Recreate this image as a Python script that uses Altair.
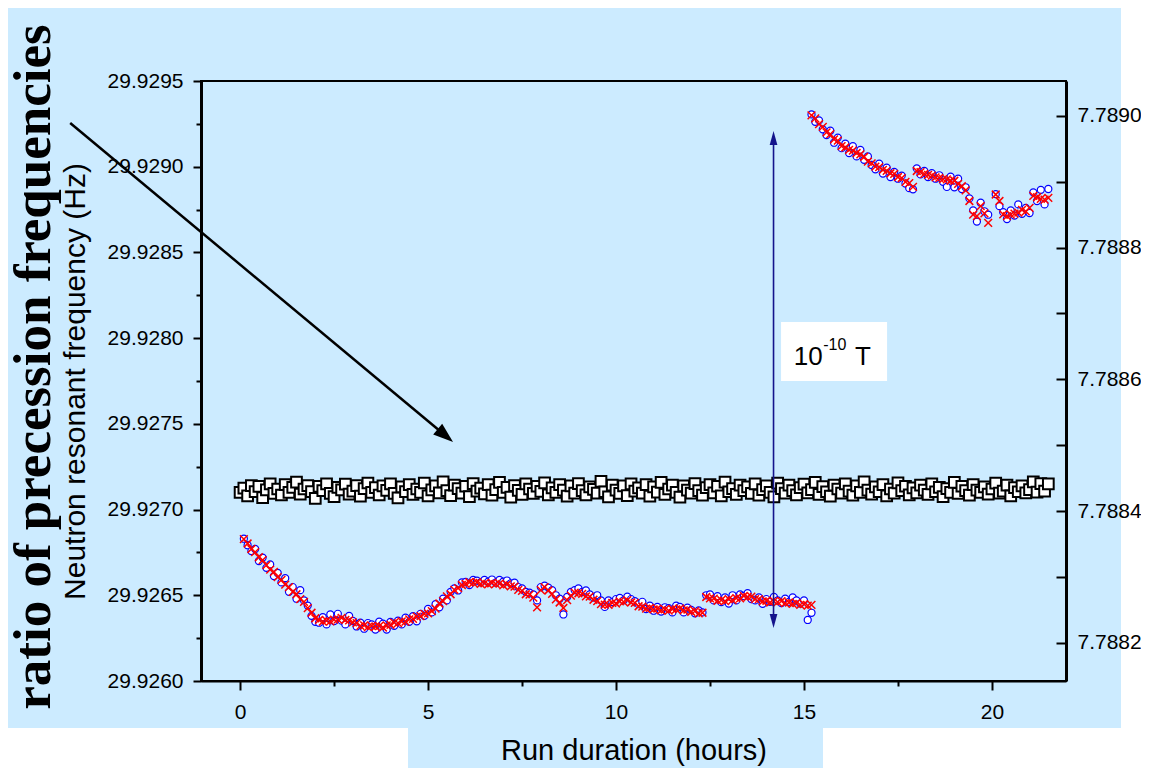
import altair as alt
import pandas as pd

# ---------------- data ----------------
CYCLE_H = 0.1  # one measurement cycle, hours

# ratio series (open squares): offsets above 29.9270 Hz, in micro-Hz
SQ_START = 0.0
SQ_UHZ = [
    100, 125, 80, 140, 105, 135, 70, 115, 150, 95,
    120, 85, 145, 100, 130, 160, 90, 120, 140, 105,
    65, 135, 110, 150, 95, 75, 130, 115, 148, 90,
    108, 140, 78, 122, 155, 100, 128, 85, 138, 112,
    150, 95, 68, 132, 105, 145, 88, 120, 100, 155,
    80, 115, 138, 98, 162, 110, 82, 142, 122, 96,
    136, 76, 152, 108, 125, 92, 146, 84, 116, 158,
    100, 130, 72, 140, 112, 88, 150, 120, 95, 136,
    106, 156, 86, 126, 100, 146, 114, 78, 138, 96,
    152, 110, 86, 132, 118, 96, 165, 104, 74, 142,
    114, 94, 138, 82, 150, 108, 126, 96, 146, 78,
    132, 102, 158, 88, 120, 142, 100, 72, 138, 114,
    96, 152, 110, 84, 128, 146, 98, 136, 80, 160,
    104, 122, 88, 142, 110, 132, 94, 150, 84, 116,
    138, 100, 74, 154, 122, 96, 142, 110, 86, 128,
    148, 98, 116, 158, 88, 134, 104, 78, 142, 120,
    96, 150, 108, 84, 138, 100, 162, 114, 90, 132,
    104, 146, 80, 120, 96, 156, 110, 136, 86, 126,
    98, 142, 114, 88, 150, 104, 130, 76, 122, 100,
    158, 94, 136, 110, 84, 146, 114, 100, 132, 90,
    120, 154, 96, 108, 142, 80, 128, 104, 138, 98,
    116, 162, 102, 152, 108, 150,
]

# neutron frequency before the field step: offsets above 29.9260 Hz, micro-Hz
LOW_START = 0.1
LOW_CIRC_UHZ = [
    830, 792, 758, 770, 700, 720, 660, 680, 612, 630,
    575, 600, 520, 548, 480, 530, 470, 440, 380, 345,
    340, 372, 330, 388, 350, 392, 352, 330, 380, 350,
    318, 340, 305, 338, 330, 300, 346, 335, 300, 345,
    322, 352, 330, 370, 345, 378, 348, 392, 380, 420,
    400, 448, 430, 480, 470, 520, 540, 528, 575, 578,
    560, 590, 585, 575, 590, 580, 592, 574, 590, 580,
    586, 570, 574, 548, 540, 520, 515, 505, 470, 548,
    556, 545, 530, 500, 480, 388, 490, 520, 530, 540,
    520, 528, 505, 486, 500, 470, 432, 470, 460, 478,
    485, 470, 492, 478, 466, 448, 462, 420, 440, 410,
    432, 405, 430, 425, 400, 440, 432, 400, 428, 415,
    395, 412, 400, 500, 505, 470, 495, 460, 488, 452,
    500, 470, 505, 496, 512, 478, 470, 488, 450, 478,
    462, 490, 470, 455, 480, 462, 488, 470, 452, 470,
    356, 398,
]
LOW_CROSS_UHZ = [
    828, 802, 770, 752, 722, 705, 676, 650, 636, 606,
    590, 562, 548, 520, 506, 478, 462, 425, 398, 366,
    356, 346, 352, 348, 358, 360, 368, 356, 354, 342,
    338, 322, 324, 314, 322, 318, 320, 312, 324, 328,
    340, 338, 348, 346, 360, 362, 376, 378, 392, 394,
    408, 422, 452, 466, 494, 506, 532, 542, 560, 566,
    576, 572, 576, 566, 570, 564, 572, 566, 568, 558,
    564, 552, 550, 532, 526, 506, 504, 486, 430, 530,
    548, 528, 508, 476, 458, 426, 472, 498, 516, 512,
    508, 494, 492, 474, 466, 448, 446, 444, 456, 452,
    464, 462, 472, 458, 456, 436, 434, 422, 426, 418,
    422, 412, 418, 410, 420, 418, 424, 412, 416, 404,
    408, 394, 398, 490, 482, 480, 468, 472, 466, 478,
    472, 484, 482, 496, 490, 492, 478, 478, 464, 468,
    458, 466, 460, 466, 454, 458, 450, 454, 444, 448,
    440, 444,
]

# after the field step: offsets above 29.9260 Hz, micro-Hz
HIGH_START = 15.2
HIGH_CIRC_UHZ = [
    3305, 3262, 3270, 3218, 3185, 3210, 3140, 3170, 3108, 3135,
    3080, 3120, 3060, 3098, 3040, 3060, 3010, 2985, 3018, 2960,
    2995, 2940, 2970, 2930, 2948, 2902, 2875, 2868, 2990, 2955,
    2975, 2940, 2962, 2930, 2950, 2912, 2882, 2942, 2880, 2930,
    2870, 2880, 2815, 2745, 2680, 2790, 2740, 2720, None, 2840,
    2770, 2735, 2695, 2745, 2715, 2780, 2725, 2760, 2730, 2850,
    2800, 2865, 2780, 2870,
]
HIGH_CROSS_UHZ = [
    3300, 3282, 3248, 3232, 3200, 3190, 3160, 3152, 3120, 3112,
    3098, 3094, 3080, 3072, 3058, 3030, 3020, 3000, 2998, 2982,
    2976, 2962, 2958, 2940, 2934, 2912, 2904, 2882, 2975, 2968,
    2958, 2952, 2948, 2938, 2935, 2928, 2926, 2918, 2918, 2900,
    2886, 2862, 2800, 2720, 2712, 2770, 2728, 2672, None, 2838,
    2800, 2722, 2712, 2720, 2726, 2732, 2748, 2740, 2760, 2830,
    2822, 2812, 2808, 2818,
]

# axes
X_DOMAIN = [-1.04, 21.97]
X_TICKS = [0, 5, 10, 15, 20]
X_MINOR = [2.5, 7.5, 12.5, 17.5]
L_DOMAIN = [29.926, 29.9295]
L_TICKS = [29.926, 29.9265, 29.927, 29.9275, 29.928, 29.9285, 29.929, 29.9295]
L_MINOR = [29.92625, 29.92675, 29.92725, 29.92775, 29.92825, 29.92875, 29.92925]
R_DOMAIN = [7.788142, 7.789053]
R_TICKS = [7.7882, 7.7884, 7.7886, 7.7888, 7.7890]
R_ALL = [7.7882, 7.7883, 7.7884, 7.7885, 7.7886, 7.7887, 7.7888, 7.7889, 7.7890]

# annotations (data coordinates)
BLACK_ARROW = dict(x=-4.52, y=29.929255, x2=5.30, y2=29.927461, tx=5.665, ty=29.927394, angle=129.8)
BLUE_ARROW = dict(x=14.19, top=29.929208, bottom=29.926309, top_base=29.929138, bottom_base=29.926379)
FIELD_BOX = dict(x=14.39, x2=17.21, y=29.928094, y2=29.92775)
FIELD_TEXT = [("10", 14.73, 29.927843, 26), ("-10", 15.51, 29.927931, 16), ("T", 16.36, 29.927843, 26)]
SIDE_TITLE = "ratio of precession frequencies"

BG = "#CCEBFF"
FONT = "Liberation Sans"
W, H = 865, 600


def rows(start, vals, base, series):
    out = []
    for i, u in enumerate(vals):
        if u is None:
            continue
        out.append({"t": round(start + i * CYCLE_H, 2), "v": base + u * 1e-6, "s": series})
    return out


data = (rows(SQ_START, SQ_UHZ, 29.927, "sq")
        + rows(LOW_START, LOW_CIRC_UHZ, 29.926, "circ")
        + rows(HIGH_START, HIGH_CIRC_UHZ, 29.926, "circ")
        + rows(LOW_START, LOW_CROSS_UHZ, 29.926, "cross")
        + rows(HIGH_START, HIGH_CROSS_UHZ, 29.926, "cross"))
df = pd.DataFrame(data)

x_axis = alt.Axis(values=X_TICKS, title="Run duration (hours)", titleFontSize=29, titlePadding=14,
                  titleFont=FONT, titleFontWeight="normal", labelFont=FONT, labelFontSize=21,
                  labelPadding=11, tickSize=9, tickWidth=2, domainWidth=2, grid=False,
                  labelColor="black", titleColor="black", tickColor="black", domainColor="black")
y_axis = alt.Axis(values=L_TICKS, format=".4f", title="Neutron resonant frequency (Hz)",
                  titleFontSize=30, titlePadding=17, titleFont=FONT, titleFontWeight="normal",
                  labelFont=FONT, labelFontSize=21, labelPadding=10, tickSize=8, tickWidth=2,
                  domainWidth=3, grid=False, labelColor="black", titleColor="black",
                  tickColor="black", domainColor="black")


def X(field):
    return alt.X(field, type="quantitative", scale=alt.Scale(domain=X_DOMAIN, nice=False, zero=False), axis=x_axis)


def Y(field):
    return alt.Y(field, type="quantitative", scale=alt.Scale(domain=L_DOMAIN, nice=False, zero=False), axis=y_axis)


base = alt.Chart(df)
squares = base.transform_filter(alt.datum.s == "sq").mark_point(
    shape="square", filled=True, fill="white", stroke="black", strokeWidth=2, size=115, opacity=1
).encode(x=X("t"), y=Y("v"))
circles = base.transform_filter(alt.datum.s == "circ").mark_point(
    shape="circle", filled=True, fill="white", stroke="#0000FF", strokeWidth=1.2, size=50, opacity=1
).encode(x=X("t"), y=Y("v"))
crosses = base.transform_filter(alt.datum.s == "cross").mark_point(
    shape="M-1,-1L1,1M-1,1L1,-1", filled=False, color="#FF0000", strokeWidth=1.5, size=60, opacity=1
).encode(x=X("t"), y=Y("v"))

# annotation box with 10^-10 T
box_df = pd.DataFrame([FIELD_BOX])
box = alt.Chart(box_df).mark_rect(color="white").encode(
    x=X("x"), x2="x2", y=Y("y"), y2="y2")
texts = []
for txt, tx, ty, fs in FIELD_TEXT:
    texts.append(alt.Chart(pd.DataFrame([{"x": tx, "y": ty, "label": txt}])).mark_text(
        align="left", baseline="alphabetic", font=FONT, fontSize=fs, color="black"
    ).encode(x=X("x"), y=Y("y"), text="label:N"))

# blue double arrow
ba = BLUE_ARROW
blue_line = alt.Chart(pd.DataFrame([{"x": ba["x"], "y": ba["top_base"], "y2": ba["bottom_base"]}])).mark_rule(
    color="#14148C", strokeWidth=1.6).encode(x=X("x"), y=Y("y"), y2="y2")
blue_heads = alt.Chart(pd.DataFrame([
    {"x": ba["x"], "y": ba["top"], "a": 0},
    {"x": ba["x"], "y": ba["bottom"], "a": 180},
])).mark_point(shape="M0,0L-0.55,2L0.55,2Z", filled=True, color="#14148C", size=196, opacity=1).encode(
    x=X("x"), y=Y("y"), angle=alt.Angle("a:Q", scale=None))

# black arrow
k = BLACK_ARROW
black_line = alt.Chart(pd.DataFrame([{"x": k["x"], "y": k["y"], "x2": k["x2"], "y2": k["y2"]}])).mark_rule(
    color="black", strokeWidth=2.5).encode(x=X("x"), y=Y("y"), x2="x2", y2="y2")
black_head = alt.Chart(pd.DataFrame([{"x": k["tx"], "y": k["ty"], "a": k["angle"]}])).mark_point(
    shape="M0,0L-0.7,2L0.7,2Z", filled=True, color="black", size=400, opacity=1).encode(
    x=X("x"), y=Y("y"), angle=alt.Angle("a:Q", scale=None))

# big side title
side_title = alt.Chart(pd.DataFrame([{"label": SIDE_TITLE}])).mark_text(
    angle=270, align="center", baseline="alphabetic", font="Liberation Serif", fontWeight="bold",
    fontSize=53, color="black"
).encode(x=alt.value(-151), y=alt.value(286), text="label:N")

# white page areas outside the light-blue panel
one = pd.DataFrame([{"k": 0}])
strip_l = alt.Chart(one).mark_rect(color="white").encode(
    x=alt.value(-200), x2=alt.value(207), y=alt.value(647), y2=alt.value(700))
strip_r = alt.Chart(one).mark_rect(color="white").encode(
    x=alt.value(622), x2=alt.value(1000), y=alt.value(647), y2=alt.value(700))
strip_side = alt.Chart(one).mark_rect(color="white").encode(
    x=alt.value(920), x2=alt.value(1000), y=alt.value(-100), y2=alt.value(700))

main = alt.layer(strip_l, strip_r, strip_side, squares, circles, crosses, box, *texts,
                 blue_line, blue_heads, black_line, black_head, side_title)

# right axis: labels
r_df = pd.DataFrame({"r": R_TICKS})
right_labels = alt.Chart(r_df).mark_point(opacity=0).encode(
    y=alt.Y("r:Q", scale=alt.Scale(domain=R_DOMAIN, nice=False, zero=False),
            axis=alt.Axis(orient="right", values=R_TICKS, format=".4f", title=None,
                          labelFont=FONT, labelFontSize=21, labelPadding=11, tickSize=0,
                          domainWidth=3, domainColor="black", labelColor="black", grid=False,
                          zindex=2)))
# right axis: inward ticks
ra_df = pd.DataFrame({"r": R_ALL})
right_ticks = alt.Chart(ra_df).mark_point(opacity=0).encode(
    y=alt.Y("r:Q", scale=alt.Scale(domain=R_DOMAIN, nice=False, zero=False),
            axis=alt.Axis(orient="left", offset=-W, values=R_ALL, title=None, labels=False,
                          domain=False, tickSize=10, tickWidth=2, tickColor="black", grid=False)))
# left minor ticks
lm_df = pd.DataFrame({"m": L_MINOR})
left_minor = alt.Chart(lm_df).mark_point(opacity=0).encode(
    y=alt.Y("m:Q", scale=alt.Scale(domain=L_DOMAIN, nice=False, zero=False),
            axis=alt.Axis(orient="left", values=L_MINOR, title=None, labels=False,
                          domain=False, tickSize=5, tickWidth=2, tickColor="black", grid=False)))
# x minor ticks
xm_df = pd.DataFrame({"m": X_MINOR})
x_minor = alt.Chart(xm_df).mark_point(opacity=0).encode(
    x=alt.X("m:Q", scale=alt.Scale(domain=X_DOMAIN, nice=False, zero=False),
            axis=alt.Axis(orient="bottom", values=X_MINOR, title=None, labels=False,
                          domain=False, tickSize=5, tickWidth=2, tickColor="black", grid=False)))

chart = alt.layer(main, right_labels, right_ticks, left_minor, x_minor).resolve_scale(
    x="independent", y="independent"
).properties(
    width=W, height=H,
    autosize=alt.AutoSizeParams(type="none"),
    padding={"left": 193, "top": 73, "right": 75, "bottom": 87},
    background=BG,
).configure_view(stroke="black", strokeWidth=2)

chart.save("out.html", embed_options={"renderer": "svg", "actions": False})
